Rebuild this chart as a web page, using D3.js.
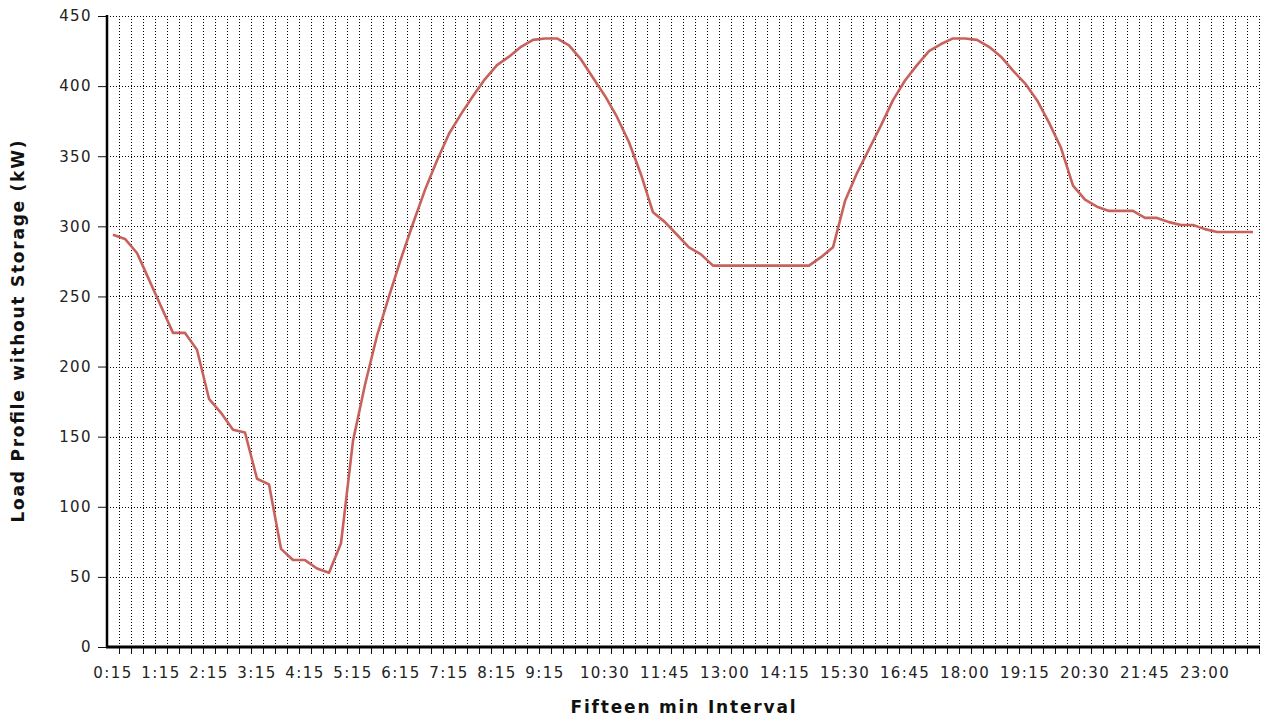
<!DOCTYPE html>
<html>
<head>
<meta charset="utf-8">
<script src="https://cdn.jsdelivr.net/npm/d3@7"></script>
<style>
	body { margin: 0; background: #fff; }
	text { font-family: "DejaVu Sans", sans-serif; }
</style>
</head>
<body>
<div></div>
<script>
var width = 1265;
var height = 726;

// fifteen minute intervals, 0:15 .. 24:00
var categories = [];
for (var i = 1; i <= 96; i++) {
	var m = i * 15;
	categories.push(Math.floor(m / 60) + ":" + ("0" + (m % 60)).slice(-2));
}

var loadValues = [
	294, 291, 281, 262, 243, 224, 224, 212, 177, 167, 155, 153,
	120, 116, 70, 62, 62, 56, 53, 74, 147, 187, 222, 250,
	277, 302, 326, 347, 366, 380, 393, 405, 415, 421, 428, 433,
	434, 434, 429, 419, 406, 393, 378, 360, 337, 310, 303, 294,
	285, 280, 272, 272, 272, 272, 272, 272, 272, 272, 272, 278,
	285, 318, 338, 355, 372, 390, 404, 415, 425, 430, 434, 434,
	433, 428, 421, 411, 402, 390, 374, 356, 329, 319, 314, 311,
	311, 311, 306, 306, 303, 301, 301, 298, 296, 296, 296, 296
];

var tickLabels = ["0:15", "1:15", "2:15", "3:15", "4:15", "5:15", "6:15", "7:15",
	"8:15", "9:15", "10:30", "11:45", "13:00", "14:15", "15:30", "16:45",
	"18:00", "19:15", "20:30", "21:45", "23:00"];

var yTicks = [0, 50, 100, 150, 200, 250, 300, 350, 400, 450];

var plotLeft = 107, plotRight = 1259, plotTop = 16, plotBottom = 647;

var x = d3.scaleBand()
			.domain(categories)
			.range([plotLeft, plotRight])
			.padding(0);

var y = d3.scaleLinear()
			.domain([0, 450])
			.range([plotBottom, plotTop]);

var svg = d3.select("div")
			.append("svg")
			.attr("width", width)
			.attr("height", height);

// dotted grid
svg.append("g")
	.selectAll("line")
	.data(yTicks.slice(1))
	.enter().append("line")
	.attr("x1", plotLeft)
	.attr("x2", plotRight)
	.attr("y1", function(d) { return Math.round(y(d)) + 0.5; })
	.attr("y2", function(d) { return Math.round(y(d)) + 0.5; })
	.attr("stroke", "#000")
	.attr("stroke-dasharray", "1,2");

svg.append("g")
	.selectAll("line")
	.data(categories)
	.enter().append("line")
	.attr("x1", function(d) { return x(d) + x.bandwidth() + 0.5; })
	.attr("x2", function(d) { return x(d) + x.bandwidth() + 0.5; })
	.attr("y1", plotTop)
	.attr("y2", plotBottom)
	.attr("stroke", "#000")
	.attr("stroke-dasharray", "1,2");

// x tick marks at category boundaries
svg.append("g")
	.selectAll("line")
	.data(categories)
	.enter().append("line")
	.attr("x1", function(d) { return x(d) + x.bandwidth() + 0.5; })
	.attr("x2", function(d) { return x(d) + x.bandwidth() + 0.5; })
	.attr("y1", plotBottom)
	.attr("y2", plotBottom + 7)
	.attr("stroke", "#111")
	.attr("stroke-width", 1);

// x labels
var xAxis = svg.append("g")
	.attr("transform", "translate(0," + plotBottom + ")")
	.call(d3.axisBottom(x).tickValues(tickLabels).tickSize(0).tickPadding(20));
xAxis.select(".domain").remove();
xAxis.selectAll("text")
	.attr("font-family", "DejaVu Sans")
	.style("font-size", "15px")
	.style("letter-spacing", "1.4px")
	.attr("fill", "#222");

// y axis
var yAxis = svg.append("g")
	.attr("transform", "translate(" + plotLeft + ",0)")
	.call(d3.axisLeft(y).tickValues(yTicks).tickSize(9).tickPadding(6));
yAxis.select(".domain").remove();
yAxis.selectAll(".tick line").attr("stroke", "#111");
yAxis.selectAll("text")
	.attr("font-family", "DejaVu Sans")
	.style("font-size", "15px")
	.style("letter-spacing", "1.4px")
	.attr("fill", "#222");

// axis lines
svg.append("line")
	.attr("x1", plotLeft).attr("x2", plotLeft)
	.attr("y1", plotTop - 1).attr("y2", plotBottom + 1)
	.attr("stroke", "#000")
	.attr("stroke-width", 2.5);

svg.append("line")
	.attr("x1", plotLeft - 1).attr("x2", plotRight + 1)
	.attr("y1", plotBottom).attr("y2", plotBottom)
	.attr("stroke", "#000")
	.attr("stroke-width", 3);

// load line
var line = d3.line()
			.x(function(d, i) { return x(categories[i]) + x.bandwidth() / 2; })
			.y(function(d) { return y(d); });

svg.append("path")
	.datum(loadValues)
	.attr("d", line)
	.attr("fill", "none")
	.attr("stroke", "#c8625c")
	.attr("stroke-width", 2.6)
	.attr("stroke-linejoin", "round");

// titles
svg.append("text")
	.attr("x", (plotLeft + plotRight) / 2)
	.attr("y", 713)
	.attr("text-anchor", "middle")
	.attr("textLength", 225)
	.attr("lengthAdjust", "spacing")
	.style("font-size", "17px")
	.style("font-weight", "bold")
	.attr("fill", "#111")
	.text("Fifteen min Interval");

svg.append("text")
	.attr("transform", "translate(24," + (plotTop + plotBottom) / 2 + ") rotate(-90)")
	.attr("text-anchor", "middle")
	.attr("textLength", 382)
	.attr("lengthAdjust", "spacing")
	.style("font-size", "17px")
	.style("font-weight", "bold")
	.attr("fill", "#111")
	.text("Load Profile without Storage (kW)");
</script>
</body>
</html>
